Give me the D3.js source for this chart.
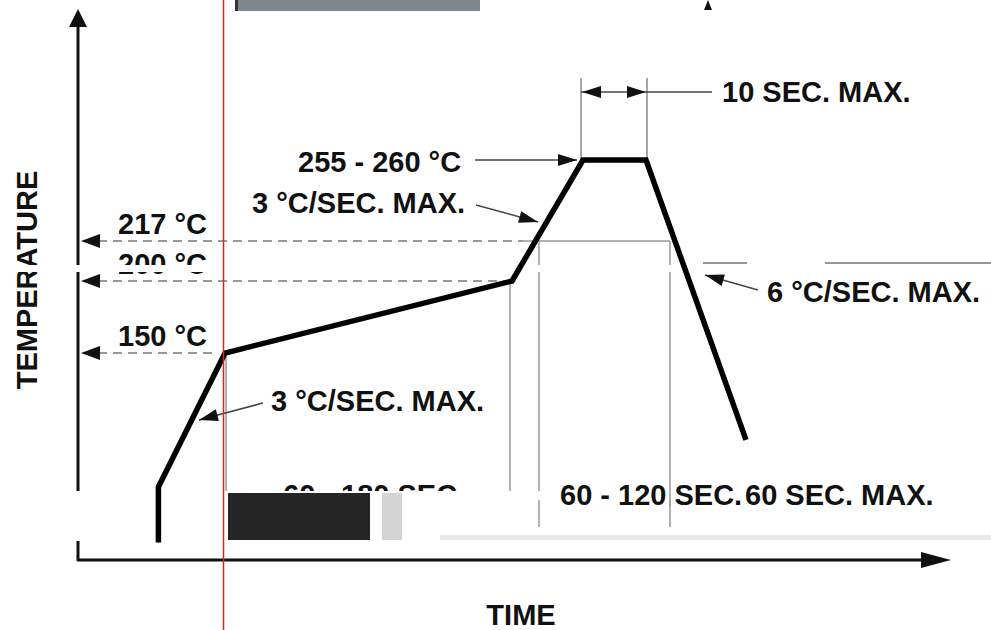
<!DOCTYPE html>
<html>
<head>
<meta charset="utf-8">
<script src="https://cdn.jsdelivr.net/npm/d3@7"></script>
<style>
  html, body { margin: 0; padding: 0; background: #fff; }
  svg text { font-family: "Liberation Sans", Arial, sans-serif; font-weight: bold; fill: #111; }
</style>
</head>
<body>
<div id="chart"></div>
<script>
// reflow profile (time in s, temperature in °C)
const profileTime = [40.2, 40.2, 73.5, 217, 252.5, 284, 334];
const profileTemp = [6, 25, 150, 200, 260, 260, 69];

// reference levels and where their dashed guide stops
const levelTemp = [217, 200, 150];
const levelLabel = ["217 °C", "200 °C", "150 °C"];
const levelEndTime = [222.5, 216, 68.5];

// vertical guides: [time, from temp]
const guideTime = [74, 216, 230.5, 296];
const guideTop = [148, 200, 217, 217];

// annotations
const peakLabel = "255 - 260 °C";
const rampLabel = "3 °C/SEC. MAX.";
const coolLabel = "6 °C/SEC. MAX.";
const dwellLabel = "10 SEC. MAX.";
const spanLabels = ["60 - 180 SEC.", "60 - 120 SEC.", "60 SEC. MAX."];
const spanStart = [102.5, 241, 333.5];

const width = 991, height = 630;

const svg = d3.select("#chart")
    .append("svg")
    .attr("width", width)
    .attr("height", height);

const x = d3.scaleLinear().domain([0, 436]).range([78, 950]);
// the drawing is not to scale, so the temperature axis is piecewise
const y = d3.scaleLinear()
    .domain([0, 25, 150, 200, 217, 260])
    .range([560, 487, 353, 281, 241, 160]);

const arrowHead = (px, py, dir, len = 18, half = 7) => {
    // dir: angle in radians the arrow points to
    const c = Math.cos(dir), s = Math.sin(dir);
    const bx = px - c * len, by = py - s * len;
    return `M${px},${py}L${bx - s * half},${by + c * half}L${bx + s * half},${by - c * half}Z`;
};

// axes
svg.append("line")
    .attr("x1", x(0)).attr("x2", x(0))
    .attr("y1", 24).attr("y2", 561)
    .attr("stroke", "#111").attr("stroke-width", 3);
svg.append("path").attr("d", arrowHead(x(0), 9, -Math.PI / 2, 18, 9)).attr("fill", "#111");
svg.append("line")
    .attr("x1", x(0) - 1).attr("x2", 925)
    .attr("y1", 560).attr("y2", 560)
    .attr("stroke", "#111").attr("stroke-width", 3);
svg.append("path").attr("d", arrowHead(951, 560, 0, 30, 8)).attr("fill", "#111");

svg.append("text")
    .attr("transform", `translate(37, 280) rotate(-90)`)
    .attr("text-anchor", "middle")
    .attr("font-size", 29)
    .text("TEMPERATURE");
svg.append("text")
    .attr("x", 521).attr("y", 625)
    .attr("text-anchor", "middle")
    .attr("font-size", 29)
    .text("TIME");

// level guides
levelTemp.forEach((t, i) => {
    svg.append("line")
        .attr("x1", 98).attr("x2", x(levelEndTime[i]))
        .attr("y1", y(t)).attr("y2", y(t))
        .attr("stroke", "#999").attr("stroke-width", 2)
        .attr("stroke-dasharray", "9,6");
    svg.append("path").attr("d", arrowHead(81, y(t), Math.PI, 19, 7)).attr("fill", "#111");
    svg.append("text")
        .attr("x", 207).attr("y", y(t) - 7)
        .attr("text-anchor", "end")
        .attr("font-size", 29)
        .text(levelLabel[i]);
});

// solid gray box lines
svg.append("line")
    .attr("x1", x(222.5)).attr("x2", x(296))
    .attr("y1", y(217)).attr("y2", y(217))
    .attr("stroke", "#999").attr("stroke-width", 1.5);
guideTime.forEach((t, i) => {
    svg.append("line")
        .attr("x1", x(t)).attr("x2", x(t))
        .attr("y1", y(guideTop[i])).attr("y2", 527)
        .attr("stroke", "#999").attr("stroke-width", 1.5);
});

// 10 sec dwell dimension
[251.5, 284.5].forEach(t => {
    svg.append("line")
        .attr("x1", x(t)).attr("x2", x(t))
        .attr("y1", 78).attr("y2", y(260))
        .attr("stroke", "#888").attr("stroke-width", 1.5);
});
svg.append("line")
    .attr("x1", x(251.5)).attr("x2", 712)
    .attr("y1", 92).attr("y2", 92)
    .attr("stroke", "#444").attr("stroke-width", 1.5);
svg.append("path").attr("d", arrowHead(x(251.5) + 1, 92, Math.PI, 19, 6)).attr("fill", "#111");
svg.append("path").attr("d", arrowHead(x(284.5) - 1, 92, 0, 19, 6)).attr("fill", "#111");
svg.append("text")
    .attr("x", 722).attr("y", 102)
    .attr("font-size", 29)
    .text(dwellLabel);

// leader lines with labels
const leaders = [
    { text: peakLabel, tx: 298, ty: 172, from: [475, 160], to: [577, 160] },
    { text: rampLabel, tx: 252, ty: 213, from: [476, 205], to: [538, 222] },
    { text: coolLabel, tx: 767, ty: 302, from: [758, 290], to: [705, 275] },
    { text: rampLabel, tx: 271, ty: 411, from: [263, 403], to: [199, 420] }
];
leaders.forEach(d => {
    svg.append("line")
        .attr("x1", d.from[0]).attr("y1", d.from[1])
        .attr("x2", d.to[0]).attr("y2", d.to[1])
        .attr("stroke", "#444").attr("stroke-width", 1.5);
    const ang = Math.atan2(d.to[1] - d.from[1], d.to[0] - d.from[0]);
    svg.append("path").attr("d", arrowHead(d.to[0], d.to[1], ang, 19, 6)).attr("fill", "#111");
    svg.append("text")
        .attr("x", d.tx).attr("y", d.ty)
        .attr("font-size", 29)
        .text(d.text);
});

// bottom span labels
spanLabels.forEach((s, i) => {
    svg.append("text")
        .attr("x", x(spanStart[i])).attr("y", 505)
        .attr("font-size", 29)
        .text(s);
});

// scan damage in the source image
svg.append("rect").attr("x", 0).attr("y", 265).attr("width", 720).attr("height", 7).attr("fill", "#fff");
svg.append("line").attr("x1", 703).attr("x2", 747).attr("y1", 263).attr("y2", 263).attr("stroke", "#333").attr("stroke-width", 1.2);
svg.append("line").attr("x1", 825).attr("x2", 991).attr("y1", 263).attr("y2", 263).attr("stroke", "#333").attr("stroke-width", 1.2);
svg.append("rect").attr("x", 0).attr("y", 491).attr("width", 560).attr("height", 50).attr("fill", "#fff");
svg.append("rect").attr("x", 560).attr("y", 506).attr("width", 431).attr("height", 35).attr("fill", "#fff");
[539, 670].forEach(px => {
    svg.append("line").attr("x1", px).attr("x2", px).attr("y1", 500).attr("y2", 527)
        .attr("stroke", "#999").attr("stroke-width", 1.5);
});
svg.append("rect").attr("x", 440).attr("y", 535).attr("width", 551).attr("height", 5).attr("fill", "#e8e8e8");
svg.append("rect").attr("x", 228).attr("y", 493).attr("width", 142).attr("height", 47).attr("fill", "#262626");
svg.append("rect").attr("x", 382).attr("y", 493).attr("width", 20).attr("height", 47).attr("fill", "#d4d4d4");
svg.append("rect").attr("x", 235).attr("y", 0).attr("width", 245).attr("height", 11).attr("fill", "#7d8891");
svg.append("rect").attr("x", 235).attr("y", 0).attr("width", 3).attr("height", 11).attr("fill", "#333");
svg.append("path").attr("d", arrowHead(708, 0, -Math.PI / 2, 10, 4)).attr("fill", "#111");

// the profile itself
const line = d3.line()
    .x(d => x(d[0]))
    .y(d => y(d[1]));
svg.append("path")
    .datum(profileTime.map((t, i) => [t, profileTemp[i]]))
    .attr("d", line)
    .attr("fill", "none")
    .attr("stroke", "#000")
    .attr("stroke-width", 5.5)
    .attr("stroke-linejoin", "miter");

// red marker line
svg.append("line")
    .attr("x1", 223.5).attr("x2", 223.5)
    .attr("y1", 0).attr("y2", height)
    .attr("stroke", "#e8201c").attr("stroke-width", 1.5);
</script>
</body>
</html>
